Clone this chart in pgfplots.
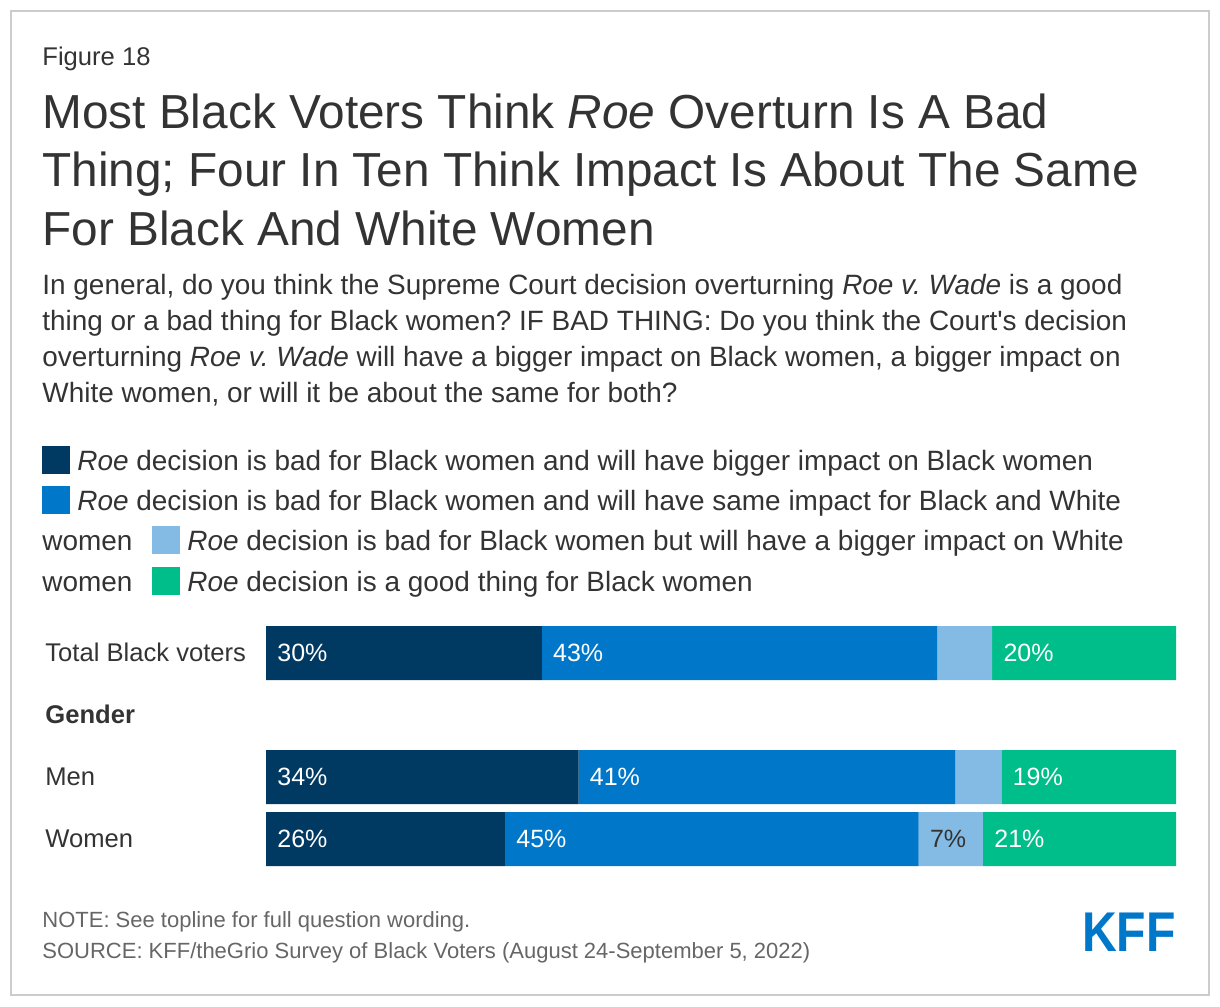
\documentclass[border=0pt]{standalone}
\usepackage{pgfplots}
\pgfplotsset{compat=1.18}
\usepackage{fontspec}
\setmainfont{Liberation Sans}
\definecolor{navy}{HTML}{003A63}
\definecolor{kffblue}{HTML}{0077C8}
\definecolor{lightblue}{HTML}{83BBE5}
\definecolor{kffgreen}{HTML}{00BE89}
\definecolor{txt}{HTML}{333333}
\definecolor{framegray}{HTML}{CCCCCC}
\definecolor{notegray}{HTML}{666666}
\newcommand{\sub}{\fontsize{13.97}{18}\selectfont}
\newcommand{\cat}{\fontsize{12.8}{15}\selectfont}
\frenchspacing
\begin{document}
\begin{tikzpicture}[x=1pt,y=1pt,every node/.style={inner sep=0pt,text=txt}]
\path (0,0) rectangle (610,-503);
\draw[framegray, line width=1pt] (5.5,-5.5) rectangle (604.5,-497.5);

% heading
\node[anchor=base west,font=\fontsize{12.8}{15}\selectfont] at (21,-33) {Figure 18};
\node[anchor=base west,font=\fontsize{23.88}{29}\selectfont] at (21,-64) {Most Black Voters Think \textit{Roe} Overturn Is A Bad};
\node[anchor=base west,font=\fontsize{23.88}{29}\selectfont] at (21,-93.25) {Thing; Four In Ten Think Impact Is About The Same};
\node[anchor=base west,font=\fontsize{23.88}{29}\selectfont] at (21,-122.5) {For Black And White Women};
\node[anchor=base west,font=\sub] at (21,-147) {In general, do you think the Supreme Court decision overturning \textit{Roe v. Wade} is a good};
\node[anchor=base west,font=\sub] at (21,-165) {thing or a bad thing for Black women? IF BAD THING: Do you think the Court\textquotesingle s decision};
\node[anchor=base west,font=\sub] at (21,-183) {overturning \textit{Roe v. Wade} will have a bigger impact on Black women, a bigger impact on};
\node[anchor=base west,font=\sub] at (21,-201) {White women, or will it be about the same for both?};

% legend
\fill[navy] (21,-223) rectangle (35,-237);
\node[anchor=base west,font=\sub] at (38.5,-235) {\textit{Roe} decision is bad for Black women and will have bigger impact on Black women};
\fill[kffblue] (21,-243) rectangle (35,-257);
\node[anchor=base west,font=\sub] at (38.5,-255) {\textit{Roe} decision is bad for Black women and will have same impact for Black and White};
\node[anchor=base west,font=\sub] at (21,-275) {women};
\fill[lightblue] (76,-263) rectangle (90,-277);
\node[anchor=base west,font=\sub] at (93.5,-275) {\textit{Roe} decision is bad for Black women but will have a bigger impact on White};
\node[anchor=base west,font=\sub] at (21,-295.5) {women};
\fill[kffgreen] (76,-283.5) rectangle (90,-297.5);
\node[anchor=base west,font=\sub] at (93.5,-295.5) {\textit{Roe} decision is a good thing for Black women};

% row labels
\node[anchor=base west,font=\cat] at (22.5,-330.5) {Total Black voters};
\node[anchor=base west,font=\cat\bfseries] at (22.5,-361.5) {Gender};
\node[anchor=base west,font=\cat] at (22.5,-392.5) {Men};
\node[anchor=base west,font=\cat] at (22.5,-423.5) {Women};

\begin{axis}[at={(133pt,-313pt)}, anchor=north west, scale only axis,
  width=455pt, height=120pt, xbar stacked, bar width=27pt,
  xmin=0, xmax=99, ymin=-0.4355, ymax=3.4355, y dir=reverse, hide axis]
\addplot[fill=navy, draw=none] coordinates {(30,0) (34,2) (26,3)};
\addplot[fill=kffblue, draw=none] coordinates {(43,0) (41,2) (45,3)};
\addplot[fill=lightblue, draw=none] coordinates {(6,0) (5,2) (7,3)};
\addplot[fill=kffgreen, draw=none] coordinates {(20,0) (19,2) (21,3)};
\end{axis}

% value labels at the start of each segment
\begin{axis}[at={(133pt,-313pt)}, anchor=north west, scale only axis,
  width=455pt, height=120pt,
  xmin=0, xmax=99, ymin=-0.4355, ymax=3.4355, y dir=reverse, hide axis,
  nodes near coords={\pgfplotspointmeta\%}, point meta=explicit symbolic,
  every node near coord/.append style={anchor=west, inner sep=0pt, xshift=5.5pt,
    font=\fontsize{12.5}{15}\selectfont}]
\addplot[draw=none, every node near coord/.append style={text=white}] table[meta=v] {
x y v
0 0 30
30 0 43
79 0 20
0 2 34
34 2 41
80 2 19
0 3 26
26 3 45
78 3 21
};
\addplot[draw=none, every node near coord/.append style={text=txt}] table[meta=v] {
x y v
71 3 7
};
\end{axis}

% note, source, logo
\node[anchor=base west,font=\fontsize{11}{13}\selectfont,text=notegray] at (21,-463.5) {NOTE: See topline for full question wording.};
\node[anchor=base west,font=\fontsize{11}{13}\selectfont,text=notegray] at (21,-479) {SOURCE: KFF/theGrio Survey of Black Voters (August 24-September 5, 2022)};
\node[anchor=south east,font=\fontsize{28}{30}\selectfont\bfseries,text=kffblue,xscale=0.86] at (588,-476) {KFF};
\end{tikzpicture}
\end{document}
